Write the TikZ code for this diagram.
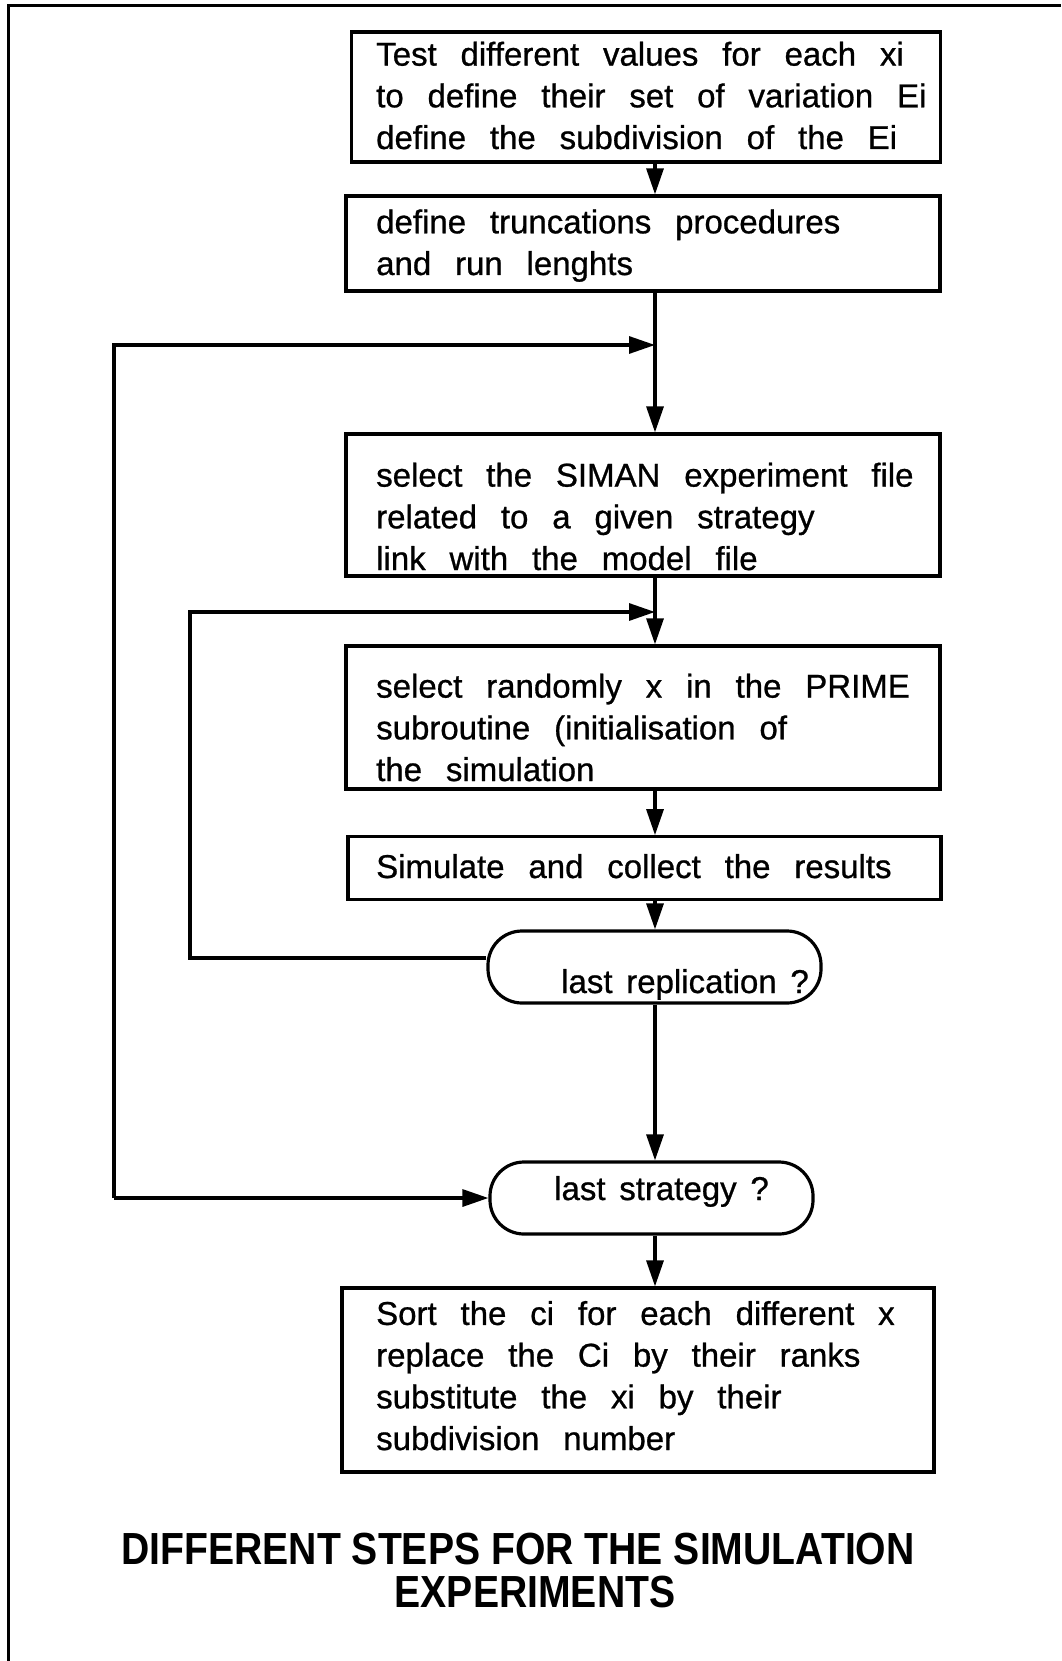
\documentclass[tikz,border=0pt]{standalone}
\usepackage{fontspec}
\setmainfont{Liberation Sans}[WordSpace=2.6,FakeBold=0.8]
\newfontfamily\testfont{Liberation Sans}[WordSpace=1.5,FakeBold=0.8]
\newfontfamily\titlefont{Liberation Sans}[FakeStretch=0.87]
\usetikzlibrary{arrows.meta}

\tikzset{
  stepbox/.style={draw, line width=3.2pt, inner sep=0pt},
  testbox/.style={draw, line width=3.2pt, inner sep=0pt, rounded corners=34pt},
  steptext/.style={anchor=base west, inner sep=0pt, align=left, font=\fontsize{33}{41.7}\selectfont},
  testtext/.style={steptext, font=\testfont\fontsize{33}{41.7}\selectfont},
  titletext/.style={anchor=base, inner sep=0pt, font=\titlefont\bfseries\fontsize{45}{50}\selectfont},
  flow/.style={line width=3.2pt, -{Triangle[length=26pt,width=17pt]}},
}

\begin{document}
\begin{tikzpicture}[x=1pt,y=-1pt]
\useasboundingbox (0,0) rectangle (1061,1661);
\draw [line width=3pt] (8.5,1661) -- (8.5,5.5) -- (1061,5.5);

% boxes
\node [stepbox, minimum width=589pt, minimum height=130pt] (b1) at (646,97) {};
\node [stepbox, minimum width=594pt, minimum height=95pt] (b2) at (643,243.5) {};
\node [stepbox, minimum width=594pt, minimum height=142pt] (b3) at (643,505) {};
\node [stepbox, minimum width=594pt, minimum height=143pt] (b4) at (643,717.5) {};
\node [stepbox, minimum width=593pt, minimum height=62.5pt] (b5) at (644.5,868) {};
\node [testbox, minimum width=333pt, minimum height=72pt] (d1) at (654.5,967) {};
\node [testbox, minimum width=323pt, minimum height=72pt] (d2) at (651.5,1198) {};
\node [stepbox, minimum width=592pt, minimum height=184pt] (b6) at (638,1380) {};

% texts (anchored on the last baseline)
\node [steptext] (t1) at (376,149) {Test different values for each xi\\to define their set of variation Ei\\define the subdivision of the Ei};
\node [steptext] (t2) at (376,275) {define truncations procedures\\and run lenghts};
\node [steptext] (t3) at (376,570) {select the SIMAN experiment file\\related to a given strategy\\link with the model file};
\node [steptext] (t4) at (376,781) {select randomly x in the PRIME\\subroutine (initialisation of\\the simulation};
\node [steptext] (t5) at (376,878) {Simulate and collect the results};
\node [testtext] (t6) at (561,993) {last replication ?};
\node [testtext] (t7) at (554,1200) {last strategy ?};
\node [steptext] (t8) at (376,1450) {Sort the ci for each different x\\replace the Ci by their ranks\\substitute the xi by their\\subdivision number};

\node [titletext] (title1) at (518,1564) {DIFFERENT STEPS FOR THE SIMULATION};
\node [titletext] (title2) at (535,1607) {EXPERIMENTS};

% connectors
\coordinate (spine) at (655,0);
\coordinate (outer) at (114,0);
\coordinate (inner) at (190,0);
\coordinate (j1) at (655,345);
\coordinate (j2) at (655,612);

\draw [flow] (b1.south -| spine) -- (b2.north -| spine);
\draw [flow] (b2.south -| spine) -- (b3.north -| spine);
\draw [flow] (b3.south -| spine) -- (b4.north -| spine);
\draw [flow] (b4.south -| spine) -- (b5.north -| spine);
\draw [flow] (b5.south -| spine) -- (d1.north -| spine);
\draw [flow] (d1.south -| spine) -- (d2.north -| spine);
\draw [flow] (d2.south -| spine) -- (b6.north -| spine);

\draw [flow] ([yshift=9pt]d1.west) -| (j2 -| inner) -- (j2);
\draw [flow] (d2.west -| outer) |- (j1);
\draw [flow] (d2.west -| outer) -- (d2.west);

\end{tikzpicture}
\end{document}
